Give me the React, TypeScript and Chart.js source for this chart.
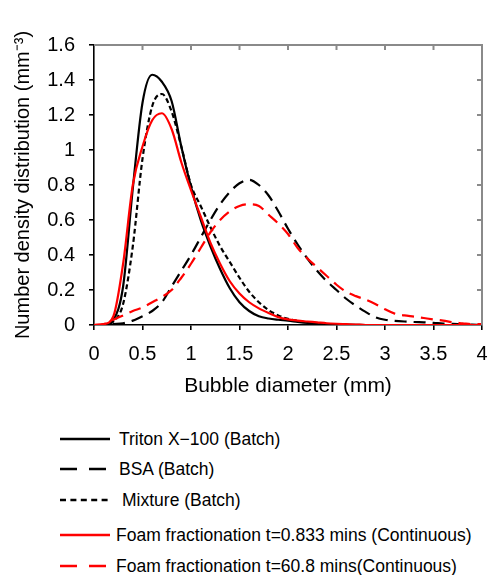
import React, { useEffect, useRef } from "react";
import { Chart, registerables } from "chart.js";

Chart.register(...registerables);

const diameters = [
  0, 0.1, 0.2, 0.3, 0.4, 0.5, 0.6, 0.7, 0.8, 0.9, 1.0, 1.1, 1.2, 1.3, 1.4, 1.5, 1.6, 1.7, 1.8, 1.9, 2.0,
  2.1, 2.2, 2.3, 2.4, 2.5, 2.6, 2.7, 2.8, 2.9, 3.0, 3.1, 3.2, 3.3, 3.4, 3.5, 3.6, 3.7, 3.8, 3.9, 4.0,
];

const tritonBatch = [
  0, 0, 0.03, 0.22, 0.78, 1.27, 1.43, 1.39, 1.28, 1.02, 0.79, 0.6, 0.45, 0.32, 0.21, 0.13, 0.08, 0.05, 0.037, 0.03, 0.025,
  0.018, 0.012, 0.008, 0.005, 0.003, 0.002, 0.001, 0, 0, 0, 0, 0, 0, 0, 0, 0, 0, 0, 0, 0,
];

const bsaBatch = [
  0, 0, 0.005, 0.01, 0.025, 0.05, 0.08, 0.13, 0.22, 0.31, 0.4, 0.5, 0.6, 0.69, 0.76, 0.81, 0.83, 0.8, 0.74, 0.65, 0.55,
  0.46, 0.38, 0.31, 0.25, 0.2, 0.15, 0.11, 0.075, 0.045, 0.03, 0.024, 0.02, 0.017, 0.015, 0.012, 0.008, 0.006, 0.004, 0.002, 0,
];

const mixtureBatch = [
  0, 0, 0.02, 0.12, 0.45, 0.95, 1.25, 1.32, 1.22, 1.02, 0.8, 0.68, 0.56, 0.45, 0.36, 0.27, 0.19, 0.13, 0.085, 0.055, 0.035,
  0.024, 0.015, 0.009, 0.005, 0.002, 0, 0, 0, 0, 0, 0, 0, 0, 0, 0, 0, 0, 0, 0, 0,
];

const foamEarly = [
  0, 0.005, 0.05, 0.35, 0.8, 1.02, 1.17, 1.21, 1.12, 0.93, 0.77, 0.62, 0.47, 0.35, 0.25, 0.18, 0.13, 0.095, 0.068, 0.045, 0.032,
  0.025, 0.02, 0.015, 0.01, 0.007, 0.005, 0.003, 0, 0, 0, 0, 0, 0, 0, 0, 0, 0, 0, 0, 0,
];

const foamLate = [
  0, 0.005, 0.03, 0.055, 0.08, 0.1, 0.13, 0.16, 0.2, 0.27, 0.35, 0.44, 0.53, 0.6, 0.65, 0.68, 0.69, 0.68, 0.63, 0.58, 0.52,
  0.44, 0.38, 0.33, 0.28, 0.23, 0.19, 0.165, 0.145, 0.12, 0.09, 0.065, 0.055, 0.048, 0.04, 0.032, 0.025, 0.015, 0.01, 0.005, 0.005,
];

const seriesLabels = [
  "Triton X\u2212100 (Batch)",
  "BSA (Batch)",
  "Mixture (Batch)",
  "Foam fractionation t=0.833 mins (Continuous)",
  "Foam fractionation t=60.8 mins(Continuous)",
];

const seriesColors = ["#000000", "#000000", "#000000", "#ff0000", "#ff0000"];
const seriesDashes: number[][] = [[], [12, 7], [5, 3], [], [12, 7]];
const legendDashes = ["", "17 12", "6 4.4", "", "17 12"];

const xTitle = "Bubble diameter (mm)";
const yTitle = "Number density distribution (mm\u207B\u00B3)";

const W = 489;
const CH = 410;
const AREA_LEFT = 94;
const AREA_RIGHT = 482;
const AREA_TOP = 45;
const AREA_BOTTOM = 325;

const fmt = (v: any) => String(Math.round(Number(v) * 100) / 100);
const FRAME_GRAY = "#8a8a8a";

const framePlugin = {
  id: "boxFrame",
  afterDraw(chart: any) {
    const ctx = chart.ctx;
    const area = chart.chartArea;
    const xs = chart.scales.x;
    const ys = chart.scales.y;
    ctx.save();
    ctx.setLineDash([]);
    ctx.strokeStyle = FRAME_GRAY;
    ctx.lineWidth = 2;
    ctx.beginPath();
    ctx.moveTo(area.left, area.top);
    ctx.lineTo(area.right, area.top);
    ctx.lineTo(area.right, area.bottom);
    for (const t of xs.ticks) {
      const px = xs.getPixelForValue(t.value);
      if (px <= area.left + 1 || px >= area.right - 1) continue;
      ctx.moveTo(px, area.top);
      ctx.lineTo(px, area.top + 5);
    }
    for (const t of ys.ticks) {
      const py = ys.getPixelForValue(t.value);
      if (py <= area.top + 1 || py >= area.bottom - 1) continue;
      ctx.moveTo(area.right, py);
      ctx.lineTo(area.right - 5, py);
    }
    ctx.stroke();
    ctx.restore();
  },
};

function DensityChart() {
  const ref = useRef<HTMLCanvasElement | null>(null);
  useEffect(() => {
    if (!ref.current) return;
    const all = [tritonBatch, bsaBatch, mixtureBatch, foamEarly, foamLate];
    const chart = new Chart(ref.current, {
      type: "line",
      data: {
        datasets: all.map((vals, i) => ({
          label: seriesLabels[i],
          data: diameters.map((d, k) => ({ x: d, y: vals[k] })),
          borderColor: seriesColors[i],
          borderDash: seriesDashes[i],
          borderWidth: 2.2,
          pointRadius: 0,
          fill: false,
          cubicInterpolationMode: "monotone",
          order: i === 3 || i === 4 ? 0 : 1,
        })),
      },
      options: {
        animation: false,
        responsive: false,
        devicePixelRatio: 1,
        layout: { padding: { left: 0, right: W - AREA_RIGHT, top: AREA_TOP, bottom: 0 } },
        plugins: { legend: { display: false }, tooltip: { enabled: false } },
        scales: {
          x: {
            type: "linear",
            position: "bottom",
            min: 0,
            max: 4,
            ticks: {
              stepSize: 0.5,
              color: "#000",
              padding: 12,
              maxRotation: 0,
              font: { family: "Arial", size: 20 },
              callback: fmt,
            },
            grid: { drawOnChartArea: false, drawTicks: true, tickLength: 5, color: "#000", lineWidth: 1.6 },
            border: { color: "#000", width: 1.6 },
            title: {
              display: true,
              text: xTitle,
              color: "#000",
              font: { family: "Arial", size: 21 },
              padding: { top: 0, bottom: 11 },
            },
            afterFit: (s: any) => {
              s.height = CH - AREA_BOTTOM;
              s.paddingLeft = 0;
              s.paddingRight = 0;
            },
          },
          y: {
            position: "left",
            min: 0,
            max: 1.6,
            ticks: {
              stepSize: 0.2,
              color: "#000",
              padding: 14,
              font: { family: "Arial", size: 20 },
              callback: fmt,
            },
            grid: { drawOnChartArea: false, drawTicks: true, tickLength: 5, color: "#000", lineWidth: 1.6 },
            border: { color: "#000", width: 1.6 },
            title: {
              display: true,
              text: yTitle,
              color: "#000",
              font: { family: "Arial", size: 20 },
              padding: { top: 11, bottom: 0 },
            },
            afterFit: (s: any) => {
              s.width = AREA_LEFT;
              s.paddingTop = 0;
              s.paddingBottom = 0;
            },
          },
        },
      },
      plugins: [framePlugin],
    } as any);
    return () => chart.destroy();
  }, []);
  return <canvas ref={ref} width={W} height={CH} style={{ position: "absolute", left: 0, top: 0, width: W, height: CH }} />;
}

const legendRowsY = [439, 469, 500, 535, 566];
const legendTextX = [119, 119, 122, 116, 116];

export default function App() {
  return (
    <div style={{ position: "absolute", left: 0, top: 0, width: W, height: 575, background: "#fff", overflow: "hidden" }}>
      <DensityChart />
      {seriesLabels.map((lab, i) => (
        <div key={i}>
          <svg
            width={52}
            height={8}
            style={{ position: "absolute", left: 59, top: legendRowsY[i] - 4 }}
          >
            <line
              x1={1}
              y1={4}
              x2={51}
              y2={4}
              stroke={seriesColors[i]}
              strokeWidth={2.4}
              strokeDasharray={legendDashes[i] || undefined}
            />
          </svg>
          <div
            style={{
              position: "absolute",
              left: legendTextX[i],
              top: legendRowsY[i] - 11,
              height: 22,
              lineHeight: "22px",
              fontFamily: "Arial, 'Liberation Sans', sans-serif",
              fontSize: 17.5,
              color: "#000",
              whiteSpace: "nowrap",
            }}
          >
            {lab}
          </div>
        </div>
      ))}
    </div>
  );
}
